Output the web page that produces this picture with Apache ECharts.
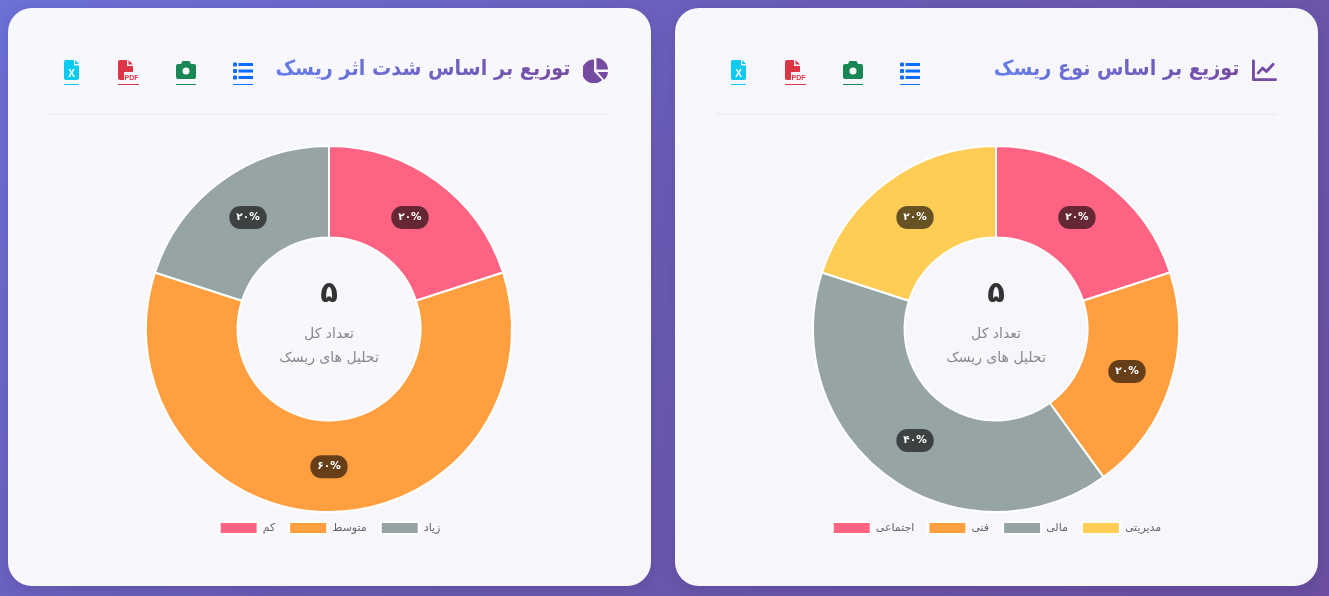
<!DOCTYPE html>
<html lang="fa">
<head>
<meta charset="utf-8">
<title>توزیع تحلیل های ریسک</title>
<script src="https://cdn.jsdelivr.net/npm/echarts@6/dist/echarts.min.js"></script>
<style>
  html, body { margin: 0; padding: 0; width: 1329px; height: 596px; overflow: hidden; }
  body { background: linear-gradient(135deg, #6d72d8 0%, #6a5cb5 45%, #6c4fa0 100%); font-family: "DejaVu Sans", "Noto Sans", sans-serif; position: relative; }
  .card { position: absolute; top: 8px; width: 643px; height: 578px; border-radius: 24px; background: rgba(255, 255, 255, .95); box-shadow: 0 4px 16px rgba(40, 30, 90, .18); }
  .head { position: absolute; top: 0; left: 40px; width: 561px; height: 105px; border-bottom: 2px solid #f0f0f3; }
  .title { position: absolute; right: 39px; top: 40px; height: 40px; line-height: 40px; font-size: 21px; font-weight: 700; direction: rtl; white-space: nowrap;
           transform: scaleX(.915); transform-origin: right center;
           background: linear-gradient(90deg, #667eea, #764ba2); -webkit-background-clip: text; background-clip: text; color: transparent; }
  .glyph { position: absolute; right: 1px; top: 50px; width: 25px; height: 25px; }
  .tool { position: absolute; top: 51px; height: 25px; border-bottom: 1.5px solid; }
  .tool svg { display: block; overflow: visible; margin-top: 1px; }
  .chart { position: absolute; left: 0; top: 0; width: 643px; height: 578px; }
</style>
</head>
<body>
<div class="card" style="left:8px">
  <div class="chart" id="severity"></div>
  <div class="head">
    <div class="title">توزیع بر اساس شدت اثر ریسک</div>
    <svg class="glyph" viewBox="0 0 26 26"><path fill="#764ba2" d="M14 0a12 12 0 0 1 12 12H14zM11.500 1.500V14l8.500 9A12.500 12.500 0 1 1 11.500 1.500zM15 14.500h11a12 12 0 0 1-4 8z"/></svg>
  </div>
  <div class="tool" style="left:225px;width:20px;border-color:#0d6efd">
    <svg width="20" height="22" viewBox="0 0 20 22"><g fill="#0d6efd"><rect x="0" y="2.500" width="4" height="4" rx="1"/><rect x="0" y="9" width="4" height="4" rx="1"/><rect x="0" y="15.500" width="4" height="4" rx="1"/><rect x="5.500" y="3" width="14.500" height="3"/><rect x="5.500" y="9.500" width="14.500" height="3"/><rect x="5.500" y="16" width="14.500" height="3"/></g></svg>
  </div>
  <div class="tool" style="left:168px;width:20px;border-color:#198754">
    <svg width="20" height="22" viewBox="0 0 20 22"><path fill="#198754" fill-rule="evenodd" d="M6.500 1h7l1.500 3h3a2 2 0 0 1 2 2v11a2 2 0 0 1-2 2H2a2 2 0 0 1-2-2V6a2 2 0 0 1 2-2h3zM10 7.500a3.500 3.500 0 1 0 0 7 3.500 3.500 0 0 0 0-7z"/></svg>
  </div>
  <div class="tool" style="left:110px;width:21px;border-color:#dc3545">
    <svg width="21" height="22" viewBox="0 0 21 22"><path fill="#dc3545" d="M2 0h7v6h6v6H6v8H2a2 2 0 0 1-2-2V2a2 2 0 0 1 2-2zM10.500 0l4.500 4.500h-4.500z"/><text x="6.500" y="20" font-size="7" font-weight="700" font-family="Liberation Sans" fill="#dc3545">PDF</text></svg>
  </div>
  <div class="tool" style="left:56px;width:15px;border-color:#0dcaf0">
    <svg width="15" height="22" viewBox="0 0 15 22"><path fill="#0dcaf0" d="M2 0h8v5.500h5V18a2 2 0 0 1-2 2H2a2 2 0 0 1-2-2V2a2 2 0 0 1 2-2zM11.200 0L15 4h-3.800z"/><text x="7.500" y="17" text-anchor="middle" font-size="10" font-weight="700" font-family="Liberation Sans" fill="#fff">X</text></svg>
  </div>
</div>

<div class="card" style="left:675px">
  <div class="chart" id="riskType"></div>
  <div class="head" style="left:41px;width:561px">
    <div class="title" style="right:37px">توزیع بر اساس نوع ریسک</div>
    <svg class="glyph" viewBox="0 0 26 26" style="right:0"><g fill="none" stroke="#764ba2" stroke-width="3" stroke-linecap="round" stroke-linejoin="round"><path d="M1.500 3v19.500h23"/><path d="M6.500 15.500l4.500-5 4 3.500 7-7.500"/></g></svg>
  </div>
  <div class="tool" style="left:225px;width:20px;border-color:#0d6efd">
    <svg width="20" height="22" viewBox="0 0 20 22"><g fill="#0d6efd"><rect x="0" y="2.500" width="4" height="4" rx="1"/><rect x="0" y="9" width="4" height="4" rx="1"/><rect x="0" y="15.500" width="4" height="4" rx="1"/><rect x="5.500" y="3" width="14.500" height="3"/><rect x="5.500" y="9.500" width="14.500" height="3"/><rect x="5.500" y="16" width="14.500" height="3"/></g></svg>
  </div>
  <div class="tool" style="left:168px;width:20px;border-color:#198754">
    <svg width="20" height="22" viewBox="0 0 20 22"><path fill="#198754" fill-rule="evenodd" d="M6.500 1h7l1.500 3h3a2 2 0 0 1 2 2v11a2 2 0 0 1-2 2H2a2 2 0 0 1-2-2V6a2 2 0 0 1 2-2h3zM10 7.500a3.500 3.500 0 1 0 0 7 3.500 3.500 0 0 0 0-7z"/></svg>
  </div>
  <div class="tool" style="left:110px;width:21px;border-color:#dc3545">
    <svg width="21" height="22" viewBox="0 0 21 22"><path fill="#dc3545" d="M2 0h7v6h6v6H6v8H2a2 2 0 0 1-2-2V2a2 2 0 0 1 2-2zM10.500 0l4.500 4.500h-4.500z"/><text x="6.500" y="20" font-size="7" font-weight="700" font-family="Liberation Sans" fill="#dc3545">PDF</text></svg>
  </div>
  <div class="tool" style="left:56px;width:15px;border-color:#0dcaf0">
    <svg width="15" height="22" viewBox="0 0 15 22"><path fill="#0dcaf0" d="M2 0h8v5.500h5V18a2 2 0 0 1-2 2H2a2 2 0 0 1-2-2V2a2 2 0 0 1 2-2zM11.200 0L15 4h-3.800z"/><text x="7.500" y="17" text-anchor="middle" font-size="10" font-weight="700" font-family="Liberation Sans" fill="#fff">X</text></svg>
  </div>
</div>

<script>
// Risk counts per category for each doughnut.
var severityNames = ['کم', 'متوسط', 'زیاد'];
var severityCounts = [1, 3, 1];
var severityColors = ['#ff6384', '#ff9f40', '#96a4a4'];

var riskTypeNames = ['اجتماعی', 'فنی', 'مالی', 'مدیریتی'];
var riskTypeCounts = [1, 1, 2, 1];
var riskTypeColors = ['#ff6384', '#ff9f40', '#96a4a4', '#ffcd56'];

var centerValue = '۵';
var centerLine1 = 'تعداد کل';
var centerLine2 = 'تحلیل های ریسک';

var FONT = '"DejaVu Sans", "Noto Sans", sans-serif';

function toPersianDigits(text) {
  return String(text).replace(/\d/g, function (d) { return '۰۱۲۳۴۵۶۷۸۹'[d]; });
}

function drawDoughnut(id, cx, names, counts, colors) {
  var cy = 321;
  var chart = echarts.init(document.getElementById(id));
  chart.setOption({
    animation: false,
    color: colors,
    legend: {
      data: names,
      icon: 'rect',
      top: 508,
      left: 'center',
      itemWidth: 38,
      itemHeight: 12,
      itemGap: 13,
      textStyle: { fontFamily: FONT, fontSize: 11, color: '#666' }
    },
    series: [{
      type: 'pie',
      center: [cx, cy],
      radius: [91.5, 183],
      startAngle: 90,
      clockwise: true,
      silent: true,
      itemStyle: { borderColor: '#ffffff', borderWidth: 2 },
      label: {
        position: 'inside',
        formatter: function (p) { return toPersianDigits(Math.round(p.percent)) + '%'; },
        fontFamily: FONT,
        fontSize: 10.5,
        fontWeight: 700,
        color: '#ffffff',
        backgroundColor: 'rgba(0,0,0,0.6)',
        borderRadius: 11,
        padding: [6, 7]
      },
      // Pull each value badge slightly towards the ring's centre line.
      labelLayout: function (p) {
        var vx = p.labelRect.x + p.labelRect.width / 2 - cx;
        var vy = p.labelRect.y + p.labelRect.height / 2 - cy;
        var len = Math.sqrt(vx * vx + vy * vy) || 1;
        return { dx: -2.5 * vx / len, dy: -2.5 * vy / len };
      },
      labelLine: { show: false },
      data: names.map(function (n, i) { return { name: n, value: counts[i] }; })
    }],
    graphic: [
      { type: 'text', x: cx, y: 286, style: { text: centerValue, fontFamily: FONT, fontSize: 29, fontWeight: 700, fill: '#333', align: 'center', verticalAlign: 'middle' } },
      { type: 'text', x: cx, y: 326, style: { text: centerLine1, fontFamily: FONT, fontSize: 14, fill: '#888', align: 'center', verticalAlign: 'middle' } },
      { type: 'text', x: cx, y: 350, style: { text: centerLine2, fontFamily: FONT, fontSize: 14, fill: '#888', align: 'center', verticalAlign: 'middle' } }
    ]
  });
}

drawDoughnut('severity', 321, severityNames, severityCounts, severityColors);
drawDoughnut('riskType', 321, riskTypeNames, riskTypeCounts, riskTypeColors);
</script>
</body>
</html>
